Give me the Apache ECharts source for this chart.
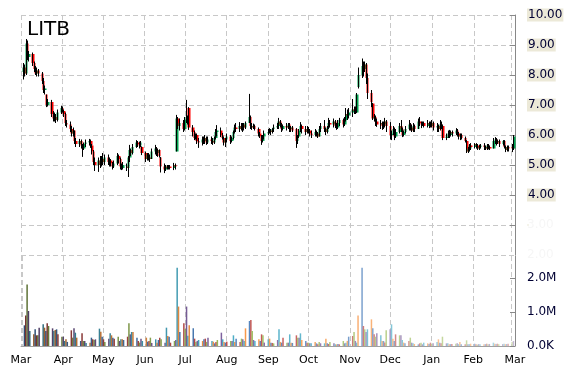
<!DOCTYPE html>
<html><head><meta charset="utf-8">
<script src="https://cdn.jsdelivr.net/npm/echarts@6/dist/echarts.min.js"></script>
<style>html,body{margin:0;padding:0;background:#fff}#c{width:570px;height:370px}</style>
</head><body><div id="c"></div>
<script>
const title = 'LITB';
const firstTradingDay = [2014, 2, 3];
const axisStart = [2014, 2, 1];
const axisEnd = [2015, 2, 3, 14];
const priceRange = [2, 10];
const volumeMaxK = 2647;
const monthNames = ['Jan', 'Feb', 'Mar', 'Apr', 'May', 'Jun', 'Jul', 'Aug', 'Sep', 'Oct', 'Nov', 'Dec'];
// [open, close, low, high] per trading day
const candles = [
[8.10,8.25,7.85,8.40],[8.25,8.05,7.95,8.35],[8.05,9.05,8.00,9.20],[9.05,8.60,8.50,9.15],[8.60,8.70,8.45,8.80],
[8.70,8.40,8.30,8.75],[8.40,8.20,8.10,8.45],[8.20,8.05,8.00,8.30],[8.05,8.15,7.95,8.25],[8.15,8.05,7.95,8.20],
[8.05,7.80,7.70,8.10],[7.80,7.50,7.40,7.90],[7.50,7.55,7.35,7.65],[7.35,7.00,6.93,7.35],[7.00,7.10,6.95,7.20],
[7.10,6.70,6.60,7.17],[6.70,6.55,6.45,6.80],[6.55,6.60,6.45,6.75],[6.60,6.50,6.40,6.70],[6.50,6.75,6.45,6.85],
[6.75,6.90,6.70,6.97],[6.90,6.80,6.75,6.95],[6.80,6.70,6.60,6.85],[6.70,6.40,6.30,6.75],[6.40,6.35,6.25,6.50],
[6.35,6.20,6.10,6.45],[6.20,6.05,5.95,6.30],[6.05,6.15,5.95,6.25],[6.15,5.80,5.70,6.15],[5.80,5.70,5.60,5.90],
[5.70,5.80,5.60,5.87],[5.80,5.65,5.55,5.85],[5.65,5.55,5.27,5.70],[5.55,5.70,5.50,5.75],[5.70,5.75,5.60,5.85],
[5.75,5.80,5.65,5.87],[5.80,5.65,5.57,5.85],[5.65,5.45,5.35,5.70],[5.45,5.10,5.00,5.50],[5.10,5.00,4.80,5.25],
[5.00,5.15,4.77,5.25],[5.15,5.00,4.90,5.30],[5.00,5.20,4.95,5.30],[5.20,5.10,5.00,5.40],[5.10,5.25,5.00,5.35],
[5.25,5.10,5.00,5.35],[5.10,5.15,4.95,5.25],[5.15,5.05,4.95,5.20],[5.05,4.95,4.85,5.10],[4.95,5.05,4.90,5.15],
[5.05,5.30,5.00,5.40],[5.30,5.20,5.05,5.35],[5.20,4.95,4.85,5.25],[4.95,4.90,4.83,5.05],[4.90,5.00,4.85,5.10],
[4.95,4.90,4.80,5.05],[4.90,5.25,4.60,5.30],[5.25,5.50,5.10,5.67],[5.50,5.40,5.30,5.55],[5.40,5.60,5.35,5.70],
[5.60,5.75,5.57,5.83],[5.75,5.70,5.60,5.80],[5.70,5.65,5.55,5.78],[5.65,5.75,5.60,5.80],[5.60,5.40,5.33,5.62],
[5.40,5.20,5.10,5.45],[5.20,5.35,5.15,5.40],[5.35,5.25,5.15,5.40],[5.25,5.20,5.10,5.35],[5.20,5.45,5.20,5.55],
[5.45,5.55,5.35,5.67],[5.55,5.40,5.30,5.60],[5.40,5.50,5.27,5.55],[5.50,5.30,5.25,5.52],[5.25,4.95,4.75,5.27],
[4.95,4.85,4.73,5.05],[4.85,4.95,4.80,5.00],[4.95,4.90,4.85,5.00],[4.90,4.95,4.85,5.00],[4.95,4.90,4.85,5.00],
[4.90,5.00,4.83,5.07],[5.00,4.95,4.85,5.05],[5.45,6.55,5.45,6.67],[6.55,6.30,6.20,6.60],[6.30,6.40,6.15,6.55],
[6.40,6.20,6.10,6.50],[6.20,6.50,6.15,6.60],[6.50,6.60,6.40,7.17],[6.60,6.50,6.35,6.65],[6.90,6.25,6.17,6.93],
[6.25,6.10,5.95,6.33],[6.10,5.90,5.83,6.15],[5.90,6.00,5.85,6.05],[6.00,5.80,5.70,6.05],[5.80,5.75,5.57,5.90],
[5.75,5.85,5.65,5.95],[5.85,5.80,5.70,5.95],[5.80,5.90,5.70,6.00],[5.90,5.75,5.67,5.95],[5.75,5.85,5.70,5.95],
[5.85,5.80,5.70,5.95],[5.80,5.75,5.67,5.90],[5.75,5.90,5.70,5.95],[5.90,6.10,5.85,6.20],[6.10,6.15,5.95,6.33],
[6.15,6.00,5.93,6.25],[6.00,5.90,5.85,6.07],[5.90,5.75,5.65,5.95],[5.75,5.85,5.60,5.90],[5.85,5.95,5.75,6.05],
[5.95,5.80,5.70,6.00],[5.80,5.90,5.75,5.95],[5.90,6.10,5.85,6.15],[6.10,6.25,6.05,6.35],[6.25,6.20,6.10,6.40],
[6.20,6.30,6.10,6.43],[6.30,6.20,6.15,6.40],[6.20,6.35,6.10,6.40],[6.35,6.25,6.15,6.40],[6.25,6.40,6.20,6.45],
[6.40,6.60,6.40,7.37],[6.60,6.30,6.20,6.65],[6.30,6.25,6.17,6.40],[6.25,6.30,6.20,6.38],[6.30,6.20,6.15,6.35],
[6.20,6.05,5.95,6.25],[6.05,5.95,5.90,6.10],[5.95,5.80,5.67,6.00],[5.80,5.95,5.75,6.00],[5.95,6.05,5.85,6.15],
[6.05,6.10,6.00,6.20],[6.10,6.15,6.05,6.23],[6.15,6.10,6.00,6.20],[6.10,6.20,6.05,6.23],[6.20,6.25,6.10,6.35],
[6.25,6.30,6.20,6.40],[6.30,6.45,6.20,6.57],[6.45,6.35,6.25,6.50],[6.35,6.20,6.10,6.40],[6.20,6.30,6.15,6.35],
[6.30,6.25,6.15,6.40],[6.25,6.35,6.20,6.40],[6.35,6.20,6.10,6.40],[6.20,6.25,6.10,6.30],[6.25,6.15,6.10,6.30],
[6.20,5.80,5.57,6.23],[5.80,5.95,5.70,6.00],[5.95,6.15,5.90,6.20],[6.15,6.30,6.10,6.43],[6.30,6.20,6.05,6.35],
[6.20,6.10,6.00,6.30],[6.10,6.20,6.05,6.30],[6.20,6.15,6.05,6.27],[6.15,6.05,5.95,6.20],[6.05,6.00,5.90,6.15],
[6.00,6.10,5.95,6.20],[6.10,6.05,5.95,6.15],[6.05,5.95,5.90,6.10],[5.95,6.20,5.95,6.30],[6.20,6.30,6.10,6.40],
[6.30,6.20,6.10,6.50],[6.20,6.10,6.00,6.25],[6.10,6.25,6.05,6.30],[6.25,6.40,6.20,6.57],[6.40,6.35,6.25,6.50],
[6.35,6.45,6.25,6.55],[6.45,6.30,6.23,6.50],[6.30,6.25,6.17,6.40],[6.25,6.40,6.20,6.50],[6.40,6.50,6.30,6.57],
[6.50,6.35,6.25,6.55],[6.35,6.50,6.30,6.60],[6.50,6.70,6.45,6.90],[6.70,6.65,6.50,6.85],[6.65,6.75,6.55,6.90],
[6.75,6.85,6.60,7.20],[6.85,6.80,6.70,6.95],[6.80,6.85,6.70,6.95],[6.75,7.35,6.73,7.40],[7.60,8.00,7.55,8.25],
[8.00,8.30,7.90,8.55],[8.30,8.20,7.95,8.45],[8.20,8.35,8.10,8.45],[8.35,7.90,7.70,8.40],[7.90,7.40,7.20,8.05],
[7.40,7.10,6.93,7.50],[7.05,6.55,6.50,7.07],[6.55,6.60,6.45,6.70],[6.60,6.45,6.30,6.65],[6.45,6.35,6.27,6.55],
[6.35,6.40,6.20,6.50],[6.40,6.30,6.17,6.45],[6.30,6.35,6.20,6.45],[6.35,6.45,6.25,6.57],[6.45,6.30,6.10,6.50],
[6.30,6.00,5.85,6.43],[6.00,6.05,5.83,6.15],[6.05,6.20,6.00,6.30],[6.20,5.95,5.83,6.25],[5.95,6.10,5.90,6.20],
[6.10,6.30,6.05,6.40],[6.30,6.20,6.10,6.50],[6.20,6.00,5.93,6.25],[6.00,6.10,5.95,6.15],[6.10,6.20,6.05,6.30],
[6.20,6.35,6.15,6.50],[6.35,6.25,6.15,6.40],[6.25,6.15,6.10,6.35],[6.15,6.30,6.10,6.40],[6.30,6.20,6.10,6.35],
[6.20,6.45,6.20,6.55],[6.45,6.40,6.30,6.60],[6.40,6.35,6.23,6.45],[6.35,6.40,6.30,6.45],[6.40,6.30,6.25,6.45],
[6.30,6.40,6.25,6.50],[6.40,6.35,6.23,6.45],[6.35,6.30,6.25,6.45],[6.30,6.40,6.25,6.50],[6.40,6.25,6.15,6.45],
[6.25,6.30,6.10,6.40],[6.30,6.20,6.10,6.35],[6.20,6.35,6.15,6.50],[6.35,6.30,6.20,6.45],[6.30,5.90,5.83,6.35],
[5.90,5.95,5.83,6.05],[5.95,6.05,5.90,6.15],[6.05,6.00,5.90,6.17],[6.00,6.10,5.95,6.15],[6.10,6.05,5.95,6.15],
[6.05,6.15,6.00,6.23],[6.15,6.05,5.95,6.20],[6.05,5.95,5.85,6.10],[5.95,6.00,5.83,6.05],[6.00,5.90,5.85,6.05],
[5.90,5.80,5.75,5.95],[5.80,5.45,5.40,5.83],[5.45,5.55,5.40,5.60],[5.55,5.65,5.45,5.70],[5.65,5.60,5.50,5.73],
[5.60,5.70,5.55,5.73],[5.70,5.65,5.55,5.73],[5.65,5.55,5.50,5.70],[5.55,5.60,5.50,5.68],[5.60,5.65,5.55,5.70],
[5.65,5.60,5.50,5.73],[5.60,5.55,5.50,5.65],[5.55,5.65,5.50,5.70],[5.65,5.60,5.52,5.70],[5.60,5.55,5.50,5.65],
[5.55,5.80,5.55,5.90],[5.80,5.85,5.70,5.93],[5.85,5.75,5.65,5.90],[5.75,5.80,5.70,5.85],[5.80,5.70,5.60,5.85],
[5.70,5.80,5.65,5.83],[5.80,5.60,5.55,5.83],[5.60,5.50,5.43,5.65],[5.50,5.60,5.45,5.65],[5.60,5.55,5.45,5.65],
[5.60,5.55,5.43,5.70],[5.55,5.95,5.50,6.00]
];
// daily volume, thousands of shares
const volumes = [
608,900,1810,1030,441, 343,490,314,314,539, 637,539,441,666,588, 519,441,470,490,343,
274,274,147,196,120, 461,245,519,392,245, 147,372,147,147,90, 98,245,196,176,196,
510,421,274,196,120, 216,372,314,245,216, 274,147,196,196,176, 274,666,343,412,412,
245,147,100,216,147, 245,127,147,245,90, 196,98,176,245,196, 98,539,294,274,98,
147,176,2300,1160,412, 666,500,1160,300,608, 519,216,118,150,176, 147,196,216,120,245,
147,127,78,118,176, 392,196,118,100,127, 147,147,314,120,216, 118,216,196,147,519,
735,764,441,176,150, 196,147,343,314,100, 196,216,98,90,78, 176,490,120,98,245,
98,98,343,98,90, 314,245,245,372,176, 147,98,98,78,78, 118,78,49,118,80,
78,216,78,60,118, 78,49,49,60,49, 147,78,98,150,274, 294,412,150,98,900,
2300,588,490,412,490, 784,519,343,274,372, 314,147,147,100,461, 490,637,216,147,343,
314,314,176,100,80, 147,245,98,78,60, 49,78,98,49,98, 78,60,98,68,80,
118,196,98,78,274, 78,78,49,55,60, 68,78,55,118,49, 49,167,49,55,68,
68,49,40,55,50, 55,55,68,55,60, 98,68,60,68,55, 55,68,55,60,68,
118,147
];

// trading calendar (weekdays) for the x positions
const tradingDays = [];
(function () {
  const d = new Date(firstTradingDay[0], firstTradingDay[1], firstTradingDay[2]);
  while (tradingDays.length < candles.length) {
    const wd = d.getDay();
    if (wd !== 0 && wd !== 6) tradingDays.push(d.getTime());
    d.setDate(d.getDate() + 1);
  }
})();

const palette = ['#4f81bd', '#c0504d', '#9bbb59', '#8064a2', '#4bacc6', '#f79646'];
function shade(hex, f) {
  const n = parseInt(hex.slice(1), 16);
  let r = (n >> 16) & 255, g = (n >> 8) & 255, b = n & 255;
  if (f < 0) { r *= (1 + f); g *= (1 + f); b *= (1 + f); }
  else { r += (255 - r) * f; g += (255 - g) * f; b += (255 - b) * f; }
  return 'rgb(' + Math.round(r) + ',' + Math.round(g) + ',' + Math.round(b) + ')';
}

const candleData = tradingDays.map((t, i) => [t].concat(candles[i]));
const volumeData = tradingDays.map((t, i) => ({
  value: [t, volumes[i]],
  itemStyle: { color: shade(palette[i % palette.length], -0.4 + 0.95 * i / (volumes.length - 1)) }
}));

const FONT = 'DejaVu Sans';
const DAY = 86400000;
const xMin = new Date(axisStart[0], axisStart[1], axisStart[2]).getTime();
const xMax = new Date(axisEnd[0], axisEnd[1], axisEnd[2], axisEnd[3]).getTime();
const split = { show: true, lineStyle: { color: '#c8c8c8', type: [5, 3], width: 1 } };
const monthLabel = v => monthNames[new Date(v + 3 * DAY).getMonth()];
const hidden = { show: false };
const tick = { show: true, inside: true, length: 5, lineStyle: { color: '#888' } };

const chart = echarts.init(document.getElementById('c'), null, { renderer: 'canvas' });
chart.setOption({
  animation: false,
  backgroundColor: '#ffffff',
  title: { text: title, left: 27, top: 20, padding: 0,
    textStyle: { fontFamily: FONT, fontSize: 20, fontWeight: 'normal', color: '#000' } },
  grid: [
    { left: 21, right: 55, top: 15, height: 240 },
    { left: 21, right: 55, top: 256, height: 90 }
  ],
  xAxis: [
    { type: 'time', gridIndex: 0, min: xMin, max: xMax, minInterval: 28 * DAY, maxInterval: 31 * DAY,
      axisLine: hidden, axisTick: hidden, axisLabel: hidden, splitLine: split },
    { type: 'time', gridIndex: 1, min: xMin, max: xMax, minInterval: 28 * DAY, maxInterval: 31 * DAY,
      axisLine: { show: true, lineStyle: { color: '#a0a0a0' } }, axisTick: hidden,
      axisLabel: { show: true, formatter: monthLabel, fontFamily: FONT, fontSize: 11, color: '#000', margin: 9,
        hideOverlap: false, showMinLabel: true, showMaxLabel: true },
      splitLine: split }
  ],
  yAxis: [
    { type: 'value', gridIndex: 0, position: 'right', min: priceRange[0], max: priceRange[1], interval: 1,
      axisLine: { show: true, lineStyle: { color: '#888' } },
      axisTick: tick,
      axisLabel: { margin: 12, fontFamily: FONT, fontSize: 12, color: '#000033',
        backgroundColor: '#ece9d8', padding: [1, 1, 0, 1], showMinLabel: false,
        formatter: v => (v >= 4 ? v.toFixed(2) : '') },
      splitLine: split },
    { type: 'value', gridIndex: 0, position: 'right', min: priceRange[0], max: priceRange[1], interval: 1,
      axisLine: hidden, axisTick: hidden, splitLine: hidden,
      axisLabel: { margin: 12, fontFamily: FONT, fontSize: 12, color: '#f6f6f6',
        formatter: v => (v < 4 ? v.toFixed(2) : '') } },
    { type: 'value', gridIndex: 1, position: 'right', min: 0, max: volumeMaxK, interval: 1000,
      axisLine: { show: true, lineStyle: { color: '#888' } },
      axisTick: tick,
      axisLabel: { margin: 12, fontFamily: FONT, fontSize: 12, color: '#000033', showMaxLabel: false,
        formatter: v => (v % 1000 !== 0 ? '' : (v === 0 ? '0.0K' : (v / 1000).toFixed(1) + 'M')) },
      splitLine: hidden }
  ],
  series: [
    { type: 'bar', xAxisIndex: 1, yAxisIndex: 2, barWidth: 1.5, data: volumeData, silent: true },
    { type: 'candlestick', xAxisIndex: 0, yAxisIndex: 0, barWidth: 2.8, data: candleData, silent: true,
      itemStyle: { color: '#00a550', color0: '#ff0000', borderColor: '#00a550', borderColor0: '#ff0000', borderWidth: 0 } },
    { type: 'candlestick', xAxisIndex: 0, yAxisIndex: 0, barWidth: 0.1, data: candleData, silent: true,
      itemStyle: { color: '#000', color0: '#000', borderColor: '#000', borderColor0: '#000', borderWidth: 1 } }
  ]
});
</script>
</body></html>
